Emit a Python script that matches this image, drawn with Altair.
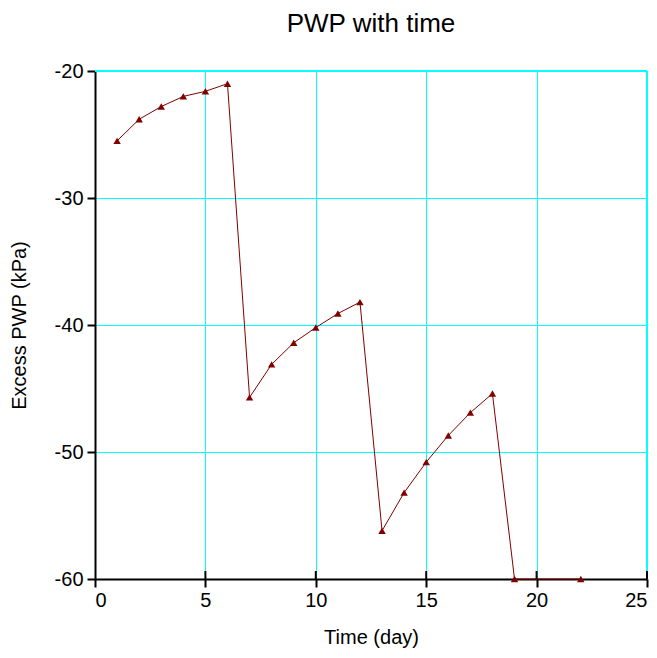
import altair as alt
import pandas as pd

days = [1, 2, 3, 4, 5, 6, 7, 8, 9, 10, 11, 12, 13, 14, 15, 16, 17, 18, 19, 22]
pwp = [-25.5, -23.8, -22.8, -22.0, -21.6, -21.0,
       -45.7, -43.1, -41.4, -40.2, -39.1, -38.2,
       -56.2, -53.2, -50.8, -48.7, -46.9, -45.4,
       -60.0, -60.0]
tick_days = [5, 10, 15, 20, 25]

df = pd.DataFrame({"day": days, "pwp": pwp})
ticks_df = pd.DataFrame({"t": tick_days})

W, H = 552, 508
FONT = "Liberation Sans"
RED = "#800000"

xscale = alt.Scale(domain=[0, 25], nice=False, zero=False)
yscale = alt.Scale(domain=[-60, -20], nice=False, zero=False)

x_enc = alt.X("day:Q", scale=xscale,
              axis=alt.Axis(title="Time (day)", values=[0, 5, 10, 15, 20, 25],
                            labelExpr="toString(datum.value)",
                            grid=True, gridColor="#00FFFF", gridWidth=1,
                            domainColor="black", domainWidth=2,
                            tickColor="black", tickWidth=2, tickSize=8,
                            labelFont=FONT, labelFontSize=20, labelColor="black",
                            labelPadding=3, titleFont=FONT, titleFontSize=20,
                            titleFontWeight="normal", titleColor="black",
                            titlePadding=17))
y_enc = alt.Y("pwp:Q", scale=yscale,
              axis=alt.Axis(title="Excess PWP  (kPa)", values=[-60, -50, -40, -30, -20],
                            labelExpr="toString(datum.value)",
                            grid=True, gridColor="#00FFFF", gridWidth=1,
                            domainColor="black", domainWidth=2,
                            tickColor="black", tickWidth=2, tickSize=8,
                            labelFont=FONT, labelFontSize=20, labelColor="black",
                            labelPadding=4, titleFont=FONT, titleFontSize=20,
                            titleFontWeight="normal", titleColor="black",
                            titlePadding=25))

line = alt.Chart(df).mark_line(color=RED, strokeWidth=1).encode(x=x_enc, y=y_enc)
pts = alt.Chart(df).mark_point(shape="triangle-up", filled=True, color=RED,
                               size=55, opacity=1).encode(x="day:Q", y="pwp:Q")
inner_ticks = alt.Chart(ticks_df).mark_rule(color="black", strokeWidth=2).encode(
    x=alt.X("t:Q", scale=xscale), y=alt.value(H - 8), y2=alt.value(H))
top_border = alt.Chart(ticks_df).mark_rule(color="#00FFFF", strokeWidth=1).encode(
    x=alt.value(0), x2=alt.value(W), y=alt.value(0))
right_border = alt.Chart(ticks_df).mark_rule(color="#00FFFF", strokeWidth=1).encode(
    x=alt.value(W), y=alt.value(0), y2=alt.value(H))

chart = alt.layer(top_border, right_border, line, pts, inner_ticks).properties(
    width=W, height=H,
    title=alt.TitleParams("PWP with time", font=FONT, fontSize=26,
                          fontWeight="normal", color="black", anchor="middle",
                          offset=24),
    autosize=alt.AutoSizeParams(type="none"),
    padding={"left": 87, "top": 63, "right": 2, "bottom": 71},
).configure_view(stroke=None).configure(background="white")

chart.save("out.html", embed_options={"renderer": "svg", "actions": False})
